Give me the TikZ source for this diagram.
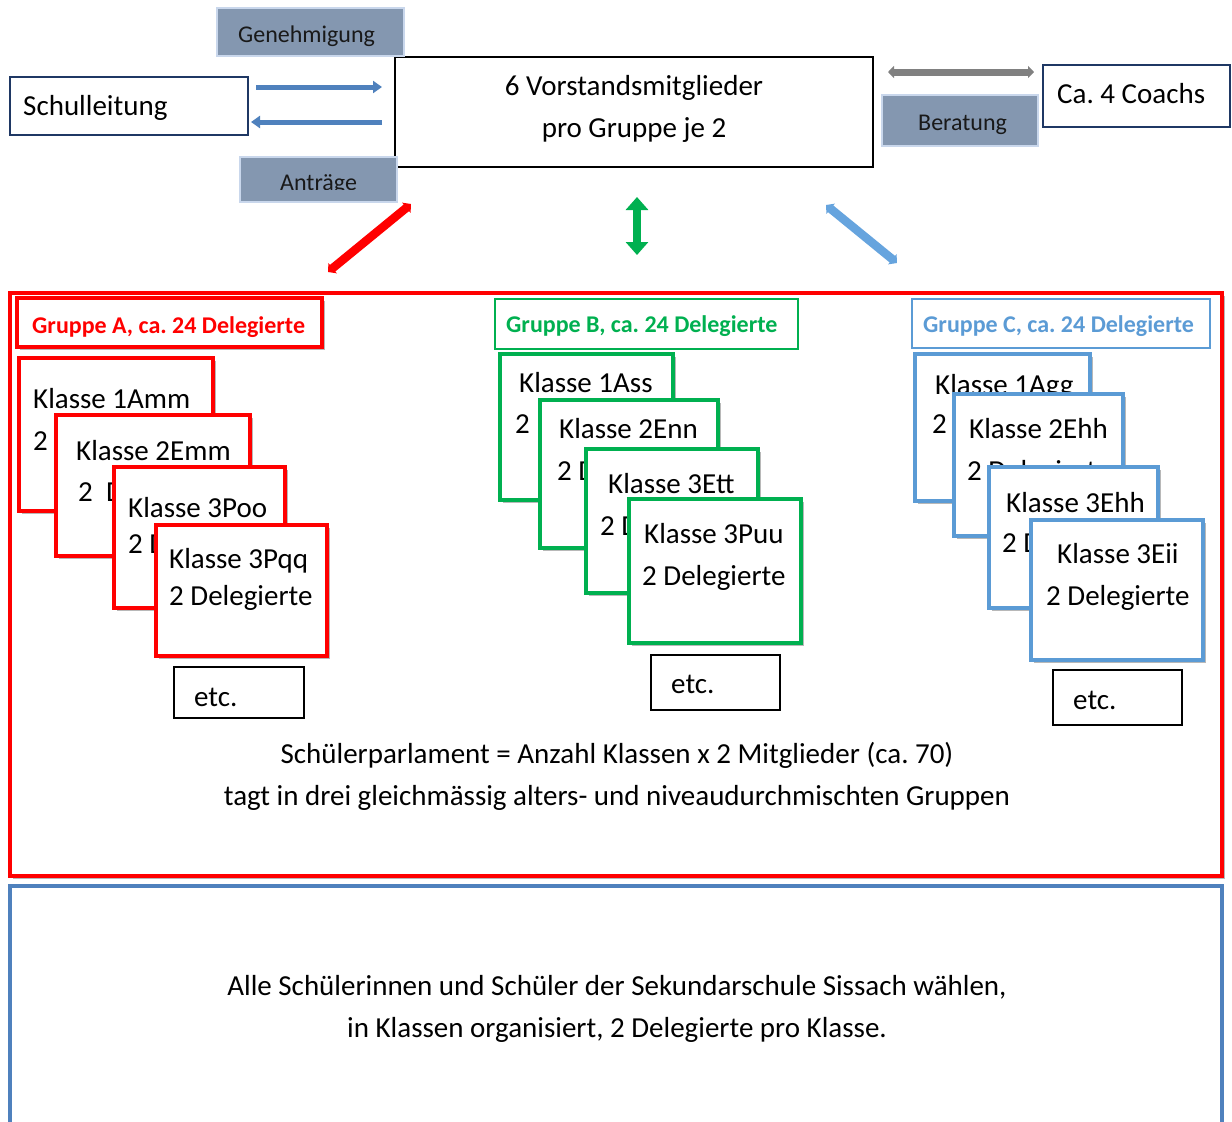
\documentclass[tikz,border=0pt]{standalone}
\usepackage{fontspec}
\setmainfont{Carlito}
\usetikzlibrary{arrows.meta,shadows,calc}
\definecolor{cRed}{HTML}{FF0000}
\definecolor{cGreen}{HTML}{00B050}
\definecolor{cBlue}{HTML}{5B9BD5}
\definecolor{cArrowBlue}{HTML}{66A4DE}
\definecolor{cNavy}{HTML}{1F3864}
\definecolor{cLabel}{HTML}{8497B0}
\definecolor{cLabelEdge}{HTML}{C9D7EC}
\definecolor{cTop}{HTML}{4F81BD}
\definecolor{cBottom}{HTML}{4F81BD}
\definecolor{cGrey}{HTML}{808080}
\newcommand\fbig{\fontsize{29}{35}\selectfont}
\newcommand\fmid{\fontsize{24}{29}\selectfont}
\newcommand\mybox[6]{\node[#2, minimum width={#5-#3}, minimum height={#6-#4}] (#1) at (#3,#4) {};}
\tikzset{
  bx/.style={anchor=north west, inner sep=0pt, outer sep=0pt},
  shad/.style={drop shadow={shadow xshift=2.5pt, shadow yshift=-3pt, opacity=0.28, fill=black}},
  card/.style={bx, draw=#1, line width=4.5pt, fill=white, shad},
  thinlbl/.style={bx, draw=#1, line width=1.2pt, fill=white},
  lbl/.style={bx, draw=cLabelEdge, line width=2pt, fill=cLabel},
  plain/.style={bx, draw=#1, line width=2.5pt, fill=white},
  etcbox/.style={bx, draw=black, line width=1.2pt, fill=white},
  txt/.style={anchor=base west, inner sep=0pt, font=\fbig},
  mtxt/.style={anchor=base west, inner sep=0pt, font=\fmid, text=black!90},
  ctxt/.style={anchor=base, inner sep=0pt, font=\fbig},
  gtxt/.style={anchor=base west, inner sep=0pt, font=\fmid\bfseries, text=#1},
  toparrow/.style={line width=5pt, draw=cTop, -{Triangle[width=12pt,length=9pt]}},
  fatarrow/.style={line width=8.5pt, draw=#1, {Triangle[width=13pt,length=6pt]}-{Triangle[width=13pt,length=6pt]}},
}
\begin{document}
\frenchspacing
\begin{tikzpicture}[x=1pt,y=-1pt]
\useasboundingbox (0,0) rectangle (1232,1122);
\fill[white] (0,0) rectangle (1232,1122);

% ---------- top row ----------
\mybox{vor}{plain=black}{395}{57}{873}{167}
\node[ctxt] (vor1) at (634,95) {6 Vorstandsmitglieder};
\node[ctxt] (vor2) at (634,137) {pro Gruppe je 2};

\mybox{gen}{lbl}{217}{8}{404}{56}
\node[mtxt] (gent) at (238,42) {Genehmigung};

\mybox{schul}{plain=cNavy}{10}{77}{248}{135}
\node[txt] (schult) at (23,115) {Schulleitung};

\mybox{antr}{lbl}{240}{157}{397}{202}
\begin{scope}
  \clip (240,150) rectangle (400,189.5);
  \node[mtxt] (antrt) at (280,190) {Anträge};
\end{scope}

\mybox{ber}{lbl}{882}{95}{1038}{146}
\node[mtxt] (bert) at (918,130) {Beratung};

\mybox{coach}{plain=cNavy}{1043}{65}{1230}{127}
\node[txt] (coacht) at (1057,103) {Ca. 4 Coachs};

\draw[toparrow] ($(schul.east)+(8,-19)$) -- ($(schul.east -| vor.west)+(-13,-19)$);
\draw[toparrow] ($(schul.east -| vor.west)+(-13,16)$) -- ($(schul.east)+(3,16)$);
\draw[line width=7pt, draw=cGrey, {Triangle[width=12pt,length=6pt]}-{Triangle[width=12pt,length=6pt]}]
  ($(vor.east |- coach.west)+(15,-24)$) -- ($(coach.west)+(-9,-24)$);

% ---------- diagonal arrows ----------
\coordinate (rA) at (411,204);
\coordinate (rB) at (328,272);
\coordinate (gA) at (637,197);
\coordinate (gB) at (637,255);
\coordinate (bA) at (826,205);
\coordinate (bB) at (897,263);
\draw[fatarrow=cRed] (rA) -- (rB);
\draw[line width=8pt, draw=cGreen, {Triangle[width=22pt,length=13pt]}-{Triangle[width=22pt,length=13pt]}] (gA) -- (gB);
\draw[fatarrow=cArrowBlue] (bA) -- (bB);

% ---------- parliament frame ----------
\mybox{parl}{bx, draw=cRed, line width=4.5pt, fill=white, shad}{10}{293}{1222}{876}
\mybox{alle}{bx, draw=cBottom, line width=4.5pt, fill=white}{10}{886}{1222}{1150}

% group A
\mybox{ga}{bx, draw=cRed, line width=4.5pt, fill=white, shad}{17}{298}{322}{347}
\node[gtxt=cRed] (gat) at (32,333) {Gruppe A, ca. 24 Delegierte};
\mybox{a1}{card=cRed}{19}{358}{213}{511}
\node[txt] (a1a) at (33,408) {Klasse 1Amm};
\node[txt] (a1b) at (33,450) {2 Delegierte};
\mybox{a2}{card=cRed}{56}{415}{250}{556}
\node[txt] (a2a) at (76,460) {Klasse 2Emm};
\node[txt] (a2b) at (78,501) {2\ \ Delegierte};
\mybox{a3}{card=cRed}{114}{467}{285}{608}
\node[txt] (a3a) at (128,517) {Klasse 3Poo};
\node[txt] (a3b) at (128,553) {2 Delegierte};
\mybox{a4}{card=cRed}{156}{525}{327}{656}
\node[txt] (a4a) at (169,568) {Klasse 3Pqq};
\node[txt] (a4b) at (169,605) {2 Delegierte};
\mybox{ea}{etcbox}{174}{667}{304}{718}
\node[txt] (eat) at (194,706) {etc.};

% group B
\mybox{gb}{thinlbl=cGreen}{495}{299}{798}{349}
\node[gtxt=cGreen] (gbt) at (506,332) {Gruppe B, ca. 24 Delegierte};
\mybox{b1}{card=cGreen}{500}{354}{673}{500}
\node[txt] (b1a) at (519,392) {Klasse 1Ass};
\node[txt] (b1b) at (515,433) {2 Delegierte};
\mybox{b2}{card=cGreen}{540}{400}{718}{548}
\node[txt] (b2a) at (559,438) {Klasse 2Enn};
\node[txt] (b2b) at (557,480) {2 Delegierte};
\mybox{b3}{card=cGreen}{586}{449}{758}{593}
\node[txt] (b3a) at (608,493) {Klasse 3Ett};
\node[txt] (b3b) at (600,535) {2 Delegierte};
\mybox{b4}{card=cGreen}{629}{499}{801}{643}
\node[txt] (b4a) at (644,543) {Klasse 3Puu};
\node[txt] (b4b) at (642,585) {2 Delegierte};
\mybox{eb}{etcbox}{651}{655}{780}{710}
\node[txt] (ebt) at (671,693) {etc.};

% group C
\mybox{gc}{thinlbl=cBlue}{912}{299}{1210}{348}
\node[gtxt=cBlue] (gct) at (923,332) {Gruppe C, ca. 24 Delegierte};
\mybox{c1}{card=cBlue}{915}{354}{1090}{501}
\node[txt] (c1a) at (935,394) {Klasse 1Agg};
\node[txt] (c1b) at (932,433) {2 Delegierte};
\mybox{c2}{card=cBlue}{954}{394}{1123}{536}
\node[txt] (c2a) at (969,438) {Klasse 2Ehh};
\node[txt] (c2b) at (967,480) {2 Delegierte};
\mybox{c3}{card=cBlue}{989}{467}{1158}{608}
\node[txt] (c3a) at (1006,512) {Klasse 3Ehh};
\node[txt] (c3b) at (1002,552) {2 Delegierte};
\mybox{c4}{card=cBlue}{1031}{520}{1203}{660}
\node[txt] (c4a) at (1057,563) {Klasse 3Eii};
\node[txt] (c4b) at (1046,605) {2 Delegierte};
\mybox{ec}{etcbox}{1053}{670}{1182}{725}
\node[txt] (ect) at (1073,709) {etc.};

% parliament text
\node[ctxt] (p1) at (617,763) {Schülerparlament = Anzahl Klassen x 2 Mitglieder (ca. 70)};
\node[ctxt] (p2) at (617,805) {tagt in drei gleichmässig alters- und niveaudurchmischten Gruppen};

% bottom text
\node[ctxt] (w1) at (617,995) {Alle Schülerinnen und Schüler der Sekundarschule Sissach wählen,};
\node[ctxt] (w2) at (617,1037) {in Klassen organisiert, 2 Delegierte pro Klasse.};
\end{tikzpicture}
\end{document}
